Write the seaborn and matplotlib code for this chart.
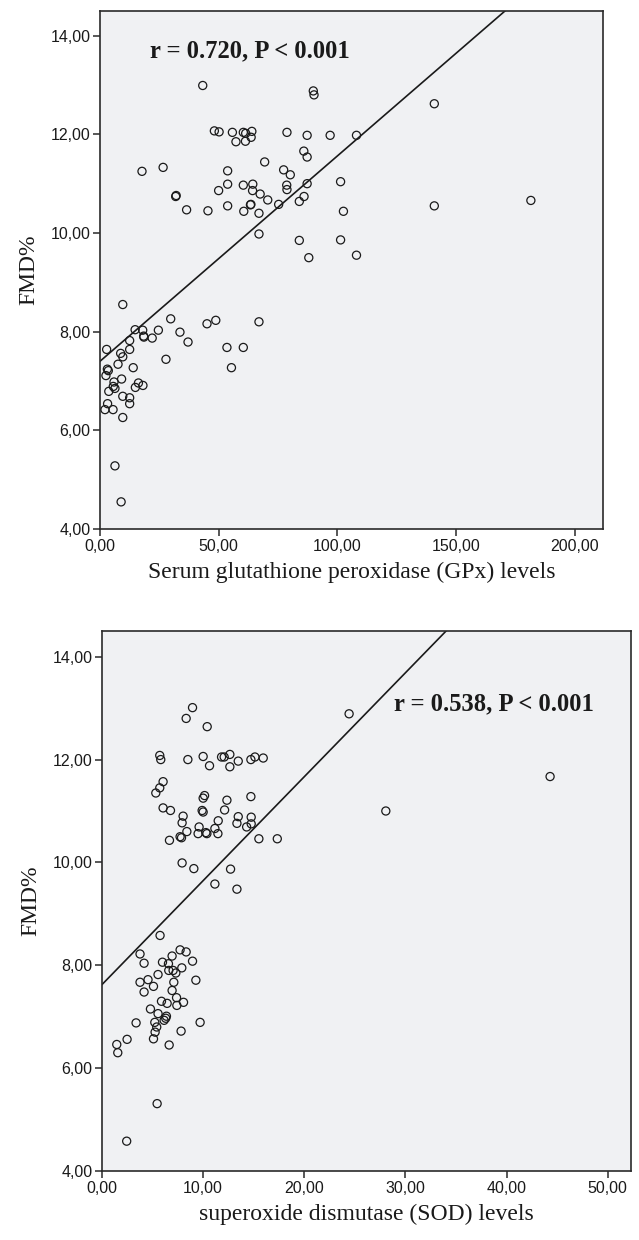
import matplotlib
matplotlib.use("Agg")
import matplotlib.pyplot as plt
import seaborn as sns
import numpy as np
import pandas as pd
from matplotlib.ticker import FuncFormatter

# ---------------- data ----------------
gpx_x = [48.2, 50.2, 17.7, 26.6, 31.9, 32.1, 50.0, 36.5, 45.5, 140.9, 140.9, 181.6,
         43.3, 89.9, 90.2, 55.8, 60.4, 61.4, 64.0, 63.7, 57.3, 61.3, 78.8, 87.3,
         97.0, 108.1, 85.9, 87.3, 53.8, 69.4, 77.4, 80.2, 53.8, 60.4, 64.4, 64.3,
         67.5, 70.7, 78.7, 78.8, 87.3, 101.4, 53.8, 60.6, 63.4, 63.6, 67.0, 75.3,
         84.0, 86.0, 102.6, 67.0, 84.0, 101.4, 88.0, 108.1, 9.6, 29.8, 48.8, 45.1,
         14.8, 18.0, 18.4, 18.5, 24.6, 22.0, 33.7, 37.1, 12.5, 12.5, 2.8, 8.7,
         9.6, 27.8, 7.6, 14.0, 3.1, 3.5, 2.5, 9.1, 5.9, 16.2, 18.1, 14.9,
         5.6, 6.3, 3.7, 9.6, 12.5, 12.5, 3.2, 5.5, 2.1, 9.6, 6.3, 8.9,
         53.5, 60.4, 55.4, 67.0]
gpx_fmd = [12.07, 12.05, 11.25, 11.33, 10.74, 10.76, 10.86, 10.47, 10.45, 12.62, 10.55, 10.66,
           12.99, 12.88, 12.80, 12.04, 12.04, 12.02, 12.06, 11.94, 11.85, 11.86, 12.04, 11.98,
           11.98, 11.98, 11.66, 11.54, 11.26, 11.44, 11.28, 11.18, 10.99, 10.97, 10.99, 10.86,
           10.79, 10.67, 10.97, 10.88, 11.00, 11.04, 10.55, 10.44, 10.57, 10.58, 10.40, 10.58,
           10.64, 10.74, 10.44, 9.98, 9.85, 9.86, 9.50, 9.55, 8.55, 8.26, 8.23, 8.16,
           8.04, 8.03, 7.91, 7.89, 8.03, 7.87, 7.99, 7.79, 7.82, 7.64, 7.64, 7.56,
           7.49, 7.44, 7.34, 7.27, 7.24, 7.21, 7.11, 7.04, 6.98, 6.96, 6.91, 6.87,
           6.89, 6.85, 6.79, 6.69, 6.66, 6.54, 6.54, 6.42, 6.42, 6.26, 5.28, 4.55,
           7.68, 7.68, 7.27, 8.20]

sod_x = [8.95, 8.32, 10.40, 5.71, 5.81, 8.49, 10.0, 10.63, 11.82, 12.08, 12.64, 12.64,
         13.47, 14.72, 15.12, 15.94, 6.04, 5.71, 5.32, 10.14, 10.0, 12.35, 14.72, 6.04,
         6.77, 9.90, 10.0, 12.12, 8.02, 7.92, 13.47, 13.34, 14.75, 14.75, 14.3, 11.49,
         11.16, 9.6, 9.5, 10.27, 10.37, 11.46, 8.39, 7.72, 7.86, 6.67, 15.51, 17.33,
         7.92, 9.08, 12.71, 11.16, 13.34, 24.43, 28.06, 44.3, 5.74, 3.76, 4.16, 7.72,
         8.32, 6.93, 5.98, 6.57, 8.95, 7.89, 6.6, 7.03, 7.30, 5.54, 4.55, 3.76,
         5.09, 4.16, 7.1, 9.28, 6.93, 7.37, 7.40, 8.06, 5.88, 6.44, 4.79, 5.54,
         6.37, 6.30, 6.14, 5.22, 5.41, 3.37, 9.70, 5.25, 7.82, 5.09, 2.48, 1.46,
         1.56, 6.64, 5.45, 2.44]
sod_fmd = [13.01, 12.80, 12.64, 12.08, 12.00, 12.00, 12.06, 11.88, 12.05, 12.05, 12.10, 11.86,
           11.97, 12.00, 12.05, 12.03, 11.57, 11.45, 11.35, 11.30, 11.25, 11.21, 11.28, 11.06,
           11.01, 11.01, 10.98, 11.02, 10.90, 10.77, 10.89, 10.76, 10.88, 10.75, 10.69, 10.81,
           10.66, 10.69, 10.56, 10.58, 10.56, 10.56, 10.60, 10.50, 10.48, 10.43, 10.46, 10.46,
           9.99, 9.88, 9.87, 9.58, 9.48, 12.89, 11.00, 11.67, 8.58, 8.22, 8.04, 8.30,
           8.26, 8.18, 8.06, 8.03, 8.08, 7.95, 7.90, 7.90, 7.85, 7.82, 7.72, 7.67,
           7.59, 7.48, 7.67, 7.71, 7.51, 7.37, 7.22, 7.28, 7.30, 7.26, 7.15, 7.06,
           7.01, 6.97, 6.93, 6.89, 6.80, 6.88, 6.89, 6.70, 6.72, 6.57, 6.56, 6.46,
           6.30, 6.45, 5.31, 4.58]

# fitted lines (intercept, slope) as shown in the reference
gpx_fit = [7.40, 0.0416]
sod_fit = [7.625, 0.2021]

gpx_text = "r = 0.720, P < 0.001"
sod_text = "r = 0.538, P < 0.001"
gpx_xlabel = "Serum glutathione peroxidase (GPx) levels"
sod_xlabel = "superoxide dismutase (SOD) levels"
ylabel = "FMD%"
gpx_xticks = [0, 50, 100, 150, 200]
sod_xticks = [0, 10, 20, 30, 40, 50]
yticks = [4, 6, 8, 10, 12, 14]

# ---------------- style ----------------
sns.set_theme(style="white")
plt.rcParams['font.family'] = ['Liberation Sans', 'DejaVu Sans']

W, H = 639, 1240
fig = plt.figure(figsize=(W / 100, H / 100), dpi=100)

bg = "#F0F1F3"
edge = "#2a2a2a"
comma_fmt = FuncFormatter(lambda v, p: f"{v:.2f}".replace(".", ","))


def panel(rect_px, x, y, fit, xlim, xticks, xlabel, text, text_xy):
    l, t, r, b = rect_px
    ax = fig.add_axes([l / W, 1 - b / H, (r - l) / W, (b - t) / H])
    ax.set_facecolor(bg)
    df = pd.DataFrame({"x": x, "y": y})
    sns.scatterplot(data=df, x="x", y="y", ax=ax, s=34, marker="o",
                    facecolors="none", edgecolor="#1a1a1a", linewidth=0.9, zorder=3)
    xs = np.array(xlim, dtype=float)
    ax.plot(xs, fit[0] + fit[1] * xs, color="#1a1a1a", lw=1.2, zorder=2)
    ax.set_xlim(*xlim)
    ax.set_ylim(4, 14.5)
    ax.set_xticks(xticks)
    ax.set_yticks(yticks)
    ax.xaxis.set_major_formatter(comma_fmt)
    ax.yaxis.set_major_formatter(comma_fmt)
    for s in ax.spines.values():
        s.set_color(edge)
        s.set_linewidth(1.2)
    ax.tick_params(axis="both", which="major", direction="out", length=5, width=1.1,
                   color=edge, labelsize=11.5, labelcolor="#1a1a1a", pad=2,
                   left=True, bottom=True)
    ax.set_xlabel(xlabel, family=["Liberation Serif", "DejaVu Serif"], fontsize=17,
                  color="#1a1a1a", labelpad=6)
    ax.set_ylabel(ylabel, family=["Liberation Serif", "DejaVu Serif"], fontsize=17,
                  color="#1a1a1a", labelpad=8)
    ax.text(text_xy[0], text_xy[1], text, transform=ax.transAxes,
            family=["Liberation Serif", "DejaVu Serif"], fontweight="bold",
            fontsize=17.7, color="#1a1a1a", ha="left", va="center")
    return ax


panel((100, 11, 603, 529), gpx_x, gpx_fmd, gpx_fit, (0, 212), gpx_xticks, gpx_xlabel,
      gpx_text, ((150 - 100) / 503, 1 - (51 - 11) / 518))
panel((102, 631, 631, 1171), sod_x, sod_fmd, sod_fit, (0, 52.3), sod_xticks, sod_xlabel,
      sod_text, ((394 - 102) / 529, 1 - (704 - 631) / 540))

fig.savefig("out.png", dpi=100, facecolor="white")
